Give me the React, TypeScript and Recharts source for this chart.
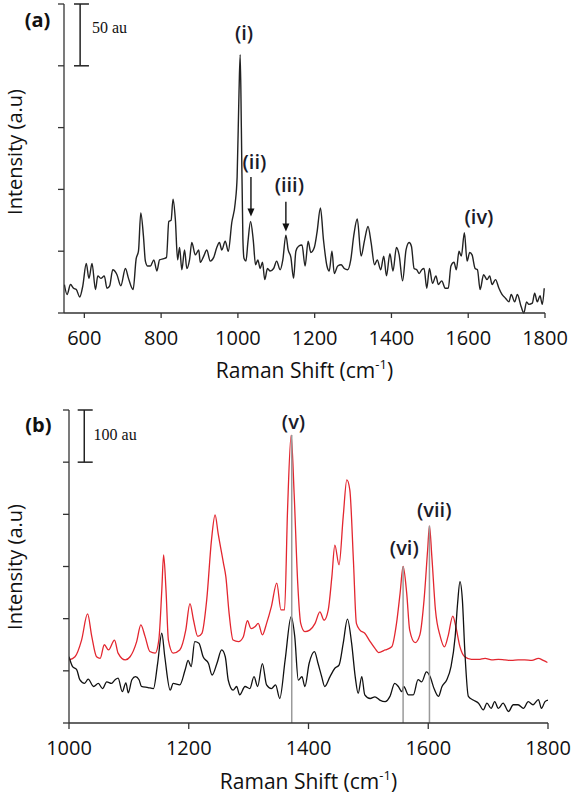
import React from 'react';
import { LineChart, Line, XAxis, YAxis, ReferenceLine, ReferenceDot } from 'recharts';

// panel (a) spectrum
const shiftA = [
  548, 555, 564, 572, 579, 588, 596, 605, 612, 620, 629, 635, 643, 652, 659, 666, 674, 685, 695, 707,
  715, 727, 735, 741, 747, 754, 759, 765, 772, 781, 789, 796, 807, 814, 820, 826, 831, 837, 843, 848,
  854, 861, 867, 874, 880, 889, 898, 902, 911, 919, 928, 937, 945, 952, 958, 967, 975, 984, 993, 998,
  1003, 1006, 1009, 1013, 1016, 1021, 1026, 1033, 1040, 1046, 1052, 1058, 1064, 1070, 1077, 1084, 1093, 1101, 1110, 1117,
  1125, 1131, 1138, 1145, 1151, 1158, 1167, 1175, 1183, 1190, 1199, 1206, 1215, 1223, 1232, 1238, 1245, 1251, 1260, 1269,
  1277, 1286, 1294, 1302, 1311, 1321, 1330, 1339, 1347, 1356, 1363, 1372, 1380, 1387, 1396, 1404, 1413, 1420, 1429, 1438,
  1446, 1452, 1459, 1466, 1472, 1479, 1485, 1492, 1499, 1507, 1516, 1522, 1531, 1540, 1548, 1555, 1563, 1569, 1576, 1582,
  1590, 1597, 1604, 1610, 1618, 1624, 1631, 1640, 1649, 1656, 1662, 1671, 1680, 1688, 1697, 1706, 1712, 1721, 1728, 1738,
  1745, 1752, 1758, 1767, 1773, 1780, 1787, 1793, 1798,
];
const intensityA = [
  23, 15, 23, 20, 19, 13, 22, 40, 28, 40, 19, 30, 28, 30, 20, 22, 35, 31, 22, 36,
  28, 19, 44, 50, 81, 62, 42, 38, 38, 43, 34, 43, 44, 45, 74, 75, 92, 76, 43, 53,
  35, 51, 36, 43, 57, 47, 51, 41, 46, 51, 42, 45, 53, 57, 51, 58, 50, 73, 89, 110,
  180, 209, 150, 60, 44, 42, 57, 74, 59, 39, 43, 36, 41, 27, 36, 34, 36, 42, 35, 43,
  63, 51, 45, 28, 50, 54, 55, 38, 58, 49, 53, 65, 85, 59, 38, 34, 50, 32, 38, 39,
  36, 35, 43, 63, 76, 46, 59, 70, 57, 39, 43, 35, 46, 30, 48, 34, 53, 47, 26, 51,
  57, 54, 36, 35, 32, 35, 36, 20, 36, 24, 30, 23, 26, 20, 20, 38, 41, 35, 50, 46,
  65, 42, 49, 47, 36, 35, 19, 31, 27, 30, 23, 27, 20, 15, 12, 9, 15, 9, 15, 5,
  0, 9, 7, 8, 16, 9, 14, 7, 20,
];

// panel (b) red spectrum
const shiftRed = [
  1000, 1010, 1021, 1031, 1038, 1046, 1052, 1059, 1066, 1076, 1082, 1094, 1102, 1113, 1120, 1127, 1135, 1144, 1150, 1155,
  1158, 1162, 1166, 1174, 1185, 1195, 1202, 1208, 1215, 1222, 1230, 1238, 1244, 1249, 1258, 1262, 1267, 1274, 1283, 1291,
  1298, 1304, 1311, 1316, 1323, 1330, 1338, 1347, 1354, 1360, 1365, 1371, 1376, 1382, 1387, 1394, 1402, 1411, 1419, 1426,
  1433, 1439, 1444, 1451, 1458, 1464, 1469, 1475, 1480, 1486, 1494, 1503, 1511, 1517, 1528, 1539, 1547, 1553, 1558, 1564,
  1569, 1578, 1586, 1593, 1599, 1602, 1606, 1612, 1620, 1627, 1633, 1641, 1646, 1653, 1661, 1672, 1684, 1695, 1706, 1717,
  1728, 1739, 1750, 1761, 1773, 1784, 1792, 1799,
];
const intensityRed = [
  121, 127, 159, 209, 166, 127, 124, 150, 140, 159, 134, 121, 127, 156, 188, 166, 137, 134, 159, 255,
  322, 255, 159, 134, 140, 178, 229, 197, 166, 172, 236, 351, 399, 364, 306, 280, 215, 159, 156, 165,
  196, 181, 185, 191, 169, 191, 223, 268, 217, 217, 408, 552, 440, 268, 191, 175, 178, 191, 213, 197,
  217, 280, 341, 303, 396, 466, 447, 312, 191, 178, 172, 156, 143, 135, 140, 146, 191, 249, 300, 249,
  178, 154, 169, 236, 332, 378, 319, 217, 166, 146, 166, 205, 185, 146, 127, 122, 122, 124, 121, 122,
  121, 120, 121, 121, 120, 124, 120, 116,
];

// panel (b) black spectrum
const shiftBlack = [
  1000, 1006, 1013, 1018, 1026, 1032, 1041, 1049, 1056, 1063, 1071, 1077, 1082, 1089, 1095, 1099, 1105, 1111, 1117, 1121,
  1132, 1141, 1148, 1155, 1160, 1169, 1174, 1185, 1194, 1199, 1204, 1210, 1217, 1224, 1233, 1239, 1247, 1255, 1261, 1266,
  1274, 1280, 1285, 1294, 1302, 1309, 1315, 1323, 1330, 1338, 1345, 1352, 1361, 1371, 1377, 1383, 1389, 1394, 1401, 1410,
  1416, 1422, 1427, 1436, 1444, 1451, 1458, 1465, 1472, 1478, 1483, 1489, 1494, 1503, 1511, 1519, 1528, 1536, 1544, 1550,
  1556, 1559, 1567, 1575, 1583, 1589, 1597, 1603, 1610, 1617, 1623, 1631, 1638, 1645, 1649, 1653, 1657, 1661, 1667, 1675,
  1684, 1692, 1698, 1705, 1711, 1717, 1725, 1734, 1742, 1750, 1759, 1767, 1775, 1784, 1789, 1795, 1800,
];
const intensityBlack = [
  127, 108, 102, 83, 76, 84, 70, 76, 66, 79, 76, 83, 86, 60, 77, 58, 83, 89, 83, 70,
  68, 66, 114, 172, 127, 63, 76, 73, 102, 120, 108, 156, 153, 127, 114, 92, 114, 140, 127, 82,
  63, 70, 54, 70, 66, 89, 70, 114, 73, 66, 73, 47, 121, 204, 166, 82, 89, 70, 114, 137,
  114, 89, 70, 89, 105, 111, 153, 199, 153, 89, 57, 89, 54, 47, 50, 44, 41, 51, 76, 70,
  60, 70, 54, 54, 83, 79, 98, 89, 65, 51, 70, 83, 108, 166, 229, 271, 236, 140, 51, 44,
  38, 25, 38, 28, 41, 28, 38, 22, 35, 35, 28, 41, 35, 45, 28, 41, 44,
];

const ticksA = [600, 800, 1000, 1200, 1400, 1600, 1800];
const ticksB = [1000, 1200, 1400, 1600, 1800];
const yTicksA = [0, 50, 100, 150, 200, 250];
const yTicksB = [0, 100, 200, 300, 400, 500, 600];

// peak labels: [text, shift, intensity]
const peaksA: [string, number, number][] = [
  ['(i)', 1016, 227],
  ['(ii)', 1043, 122],
  ['(iii)', 1134, 104],
  ['(iv)', 1628, 78],
];
const peaksB: [string, number, number][] = [
  ['(v)', 1375, 577],
  ['(vi)', 1560, 335],
  ['(vii)', 1610, 408],
];
// arrows in (a): [shift, from, to]
const arrowsA: [number, number, number][] = [
  [1034, 110, 78],
  [1125, 90, 66],
];
// grey marker lines in (b): [shift, top]
const markersB: [number, number][] = [
  [1372, 552],
  [1558, 300],
  [1602, 378],
];

const FONT = '"Open Sans", "DejaVu Sans", sans-serif';
const SERIF = '"Liberation Serif", "DejaVu Serif", serif';
const AXIS = '#333';

const toRows = (xs: number[], ys: number[]) => xs.map((x, i) => ({ x, y: ys[i] }));

const Arrow = (p: any) => {
  const { x1, y1, x2, y2 } = p;
  return (
    <g>
      <line x1={x1} y1={y1} x2={x2} y2={y2 - 6} stroke="#111" strokeWidth={1.4} />
      <polygon points={`${x2 - 3.5},${y2 - 8} ${x2 + 3.5},${y2 - 8} ${x2},${y2}`} fill="#111" />
    </g>
  );
};

const xTitle = (dy: number) => ({ viewBox }: any) => (
  <text
    x={viewBox.x + viewBox.width / 2}
    y={viewBox.y + dy}
    textAnchor="middle"
    fontSize={21}
    fontFamily={FONT}
    fill="#111"
  >
    Raman Shift (cm
    <tspan dy={-9} fontSize={13}>-1</tspan>
    <tspan dy={9}>)</tspan>
  </text>
);

const yTitle = (cy: number) => () => (
  <text
    x={22}
    y={cy}
    transform={`rotate(-90, 22, ${cy})`}
    textAnchor="middle"
    fontSize={20}
    fontFamily={FONT}
    fill="#111"
  >
    Intensity (a.u)
  </text>
);

const tickStyle = { fill: '#111', fontSize: 20, fontFamily: FONT };
const blank = () => '';

const peakLabel = (text: string) => ({
  value: text,
  position: 'center' as const,
  fill: '#1b1b2a',
  fontSize: 20,
  fontWeight: 600,
  fontFamily: FONT,
});

const App: React.FC = () => {
  const dataA = toRows(shiftA, intensityA);
  const dataRed = toRows(shiftRed, intensityRed);
  const dataBlack = toRows(shiftBlack, intensityBlack);

  return (
    <div style={{ position: 'absolute', left: 0, top: 0, width: 576, height: 794, background: '#fff' }}>
      <LineChart width={576} height={390} margin={{ top: 4, right: 31, bottom: 0, left: 0 }}>
        <XAxis
          type="number"
          dataKey="x"
          domain={[547, 1800]}
          ticks={ticksA}
          allowDataOverflow
          height={77}
          stroke={AXIS}
          strokeWidth={1.3}
          tickSize={5}
          tickMargin={13}
          tick={tickStyle}
          label={{ content: xTitle(65) }}
        />
        <YAxis
          type="number"
          domain={[0, 250]}
          ticks={yTicksA}
          width={64}
          stroke={AXIS}
          strokeWidth={1.3}
          tickSize={6}
          tick={tickStyle}
          tickFormatter={blank}
          label={{ content: yTitle(152) }}
        />
        <Line
          data={dataA}
          dataKey="y"
          type="monotone"
          stroke="#222"
          strokeWidth={1.4}
          dot={false}
          isAnimationActive={false}
        />
        {/* scale bar 50 au */}
        <ReferenceLine segment={[{ x: 589, y: 200 }, { x: 589, y: 250 }]} stroke="#222" strokeWidth={1.5} />
        <ReferenceLine segment={[{ x: 573, y: 250 }, { x: 612, y: 250 }]} stroke="#222" strokeWidth={1.5} />
        <ReferenceLine segment={[{ x: 573, y: 200 }, { x: 612, y: 200 }]} stroke="#222" strokeWidth={1.5} />
        <ReferenceDot
          x={620}
          y={231}
          r={0}
          stroke="none"
          label={{ value: '50 au', position: 'right', offset: 0, fill: '#111', fontSize: 16, fontFamily: SERIF }}
        />
        <ReferenceDot
          x={478}
          y={237}
          r={0}
          stroke="none"
          ifOverflow="visible"
          label={{ value: '(a)', position: 'center', fill: '#111', fontSize: 20, fontWeight: 700, fontFamily: FONT }}
        />
        {arrowsA.map(([x, from, to]) => (
          <ReferenceLine key={x} segment={[{ x, y: from }, { x, y: to }]} shape={Arrow} />
        ))}
        {peaksA.map(([t, x, y]) => (
          <ReferenceDot key={t} x={x} y={y} r={0} stroke="none" label={peakLabel(t)} />
        ))}
      </LineChart>

      <LineChart width={576} height={404} margin={{ top: 20, right: 28, bottom: 0, left: 0 }}>
        <XAxis
          type="number"
          dataKey="x"
          domain={[1000, 1800]}
          ticks={ticksB}
          allowDataOverflow
          height={71}
          stroke={AXIS}
          strokeWidth={1.3}
          tickSize={6}
          tickMargin={12}
          tick={tickStyle}
          label={{ content: xTitle(66) }}
        />
        <YAxis
          type="number"
          domain={[0, 600]}
          ticks={yTicksB}
          width={69}
          stroke={AXIS}
          strokeWidth={1.3}
          tickSize={6}
          tick={tickStyle}
          tickFormatter={blank}
          label={{ content: yTitle(177) }}
        />
        <Line
          data={dataRed}
          dataKey="y"
          type="monotone"
          stroke="#e3262f"
          strokeWidth={1.3}
          dot={false}
          isAnimationActive={false}
        />
        <Line
          data={dataBlack}
          dataKey="y"
          type="monotone"
          stroke="#111"
          strokeWidth={1.3}
          dot={false}
          isAnimationActive={false}
        />
        {markersB.map(([x, top]) => (
          <ReferenceLine key={x} segment={[{ x, y: 0 }, { x, y: top }]} stroke="#9a9a9a" strokeWidth={1.5} />
        ))}
        {/* scale bar 100 au */}
        <ReferenceLine segment={[{ x: 1025.5, y: 500 }, { x: 1025.5, y: 600 }]} stroke="#222" strokeWidth={1.5} />
        <ReferenceLine segment={[{ x: 1014.5, y: 600 }, { x: 1039.6, y: 600 }]} stroke="#222" strokeWidth={1.5} />
        <ReferenceLine segment={[{ x: 1014.5, y: 500 }, { x: 1039.6, y: 500 }]} stroke="#222" strokeWidth={1.5} />
        <ReferenceDot
          x={1041}
          y={554}
          r={0}
          stroke="none"
          label={{ value: '100 au', position: 'right', offset: 0, fill: '#111', fontSize: 16, fontFamily: SERIF }}
        />
        <ReferenceDot
          x={949}
          y={571}
          r={0}
          stroke="none"
          ifOverflow="visible"
          label={{ value: '(b)', position: 'center', fill: '#111', fontSize: 20, fontWeight: 700, fontFamily: FONT }}
        />
        {peaksB.map(([t, x, y]) => (
          <ReferenceDot key={t} x={x} y={y} r={0} stroke="none" label={peakLabel(t)} />
        ))}
      </LineChart>
    </div>
  );
};

export default App;
